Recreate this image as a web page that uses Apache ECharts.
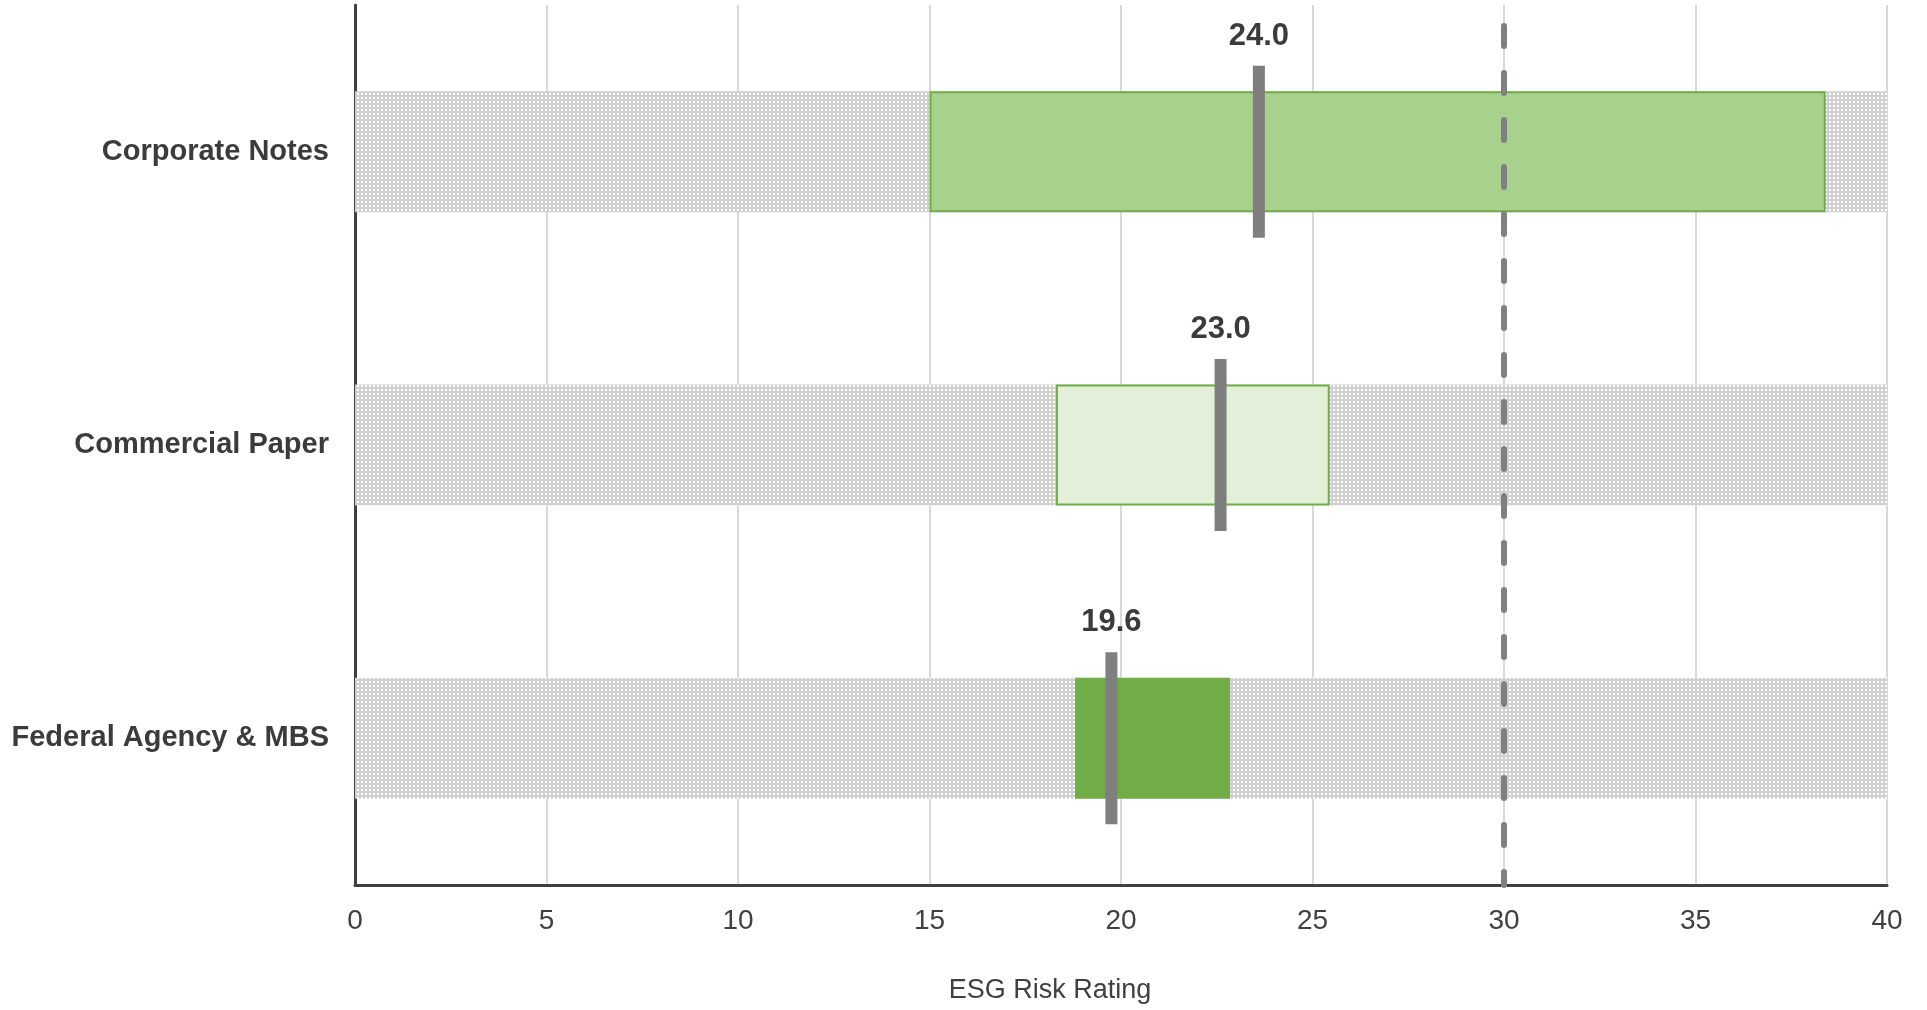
<!DOCTYPE html>
<html>
<head>
<meta charset="utf-8">
<title>ESG Risk Rating</title>
<script src="https://cdn.jsdelivr.net/npm/echarts@6/dist/echarts.min.js"></script>
<style>
  html, body { margin: 0; padding: 0; background: #fff; }
  #chart { width: 1927px; height: 1010px; }
</style>
</head>
<body>
<div id="chart"></div>
<script>
  // data, top row first
  const categories = ['Corporate Notes', 'Commercial Paper', 'Federal Agency & MBS'];
  const rangeLow = [15.0, 18.3, 18.8];
  const rangeHigh = [38.4, 25.45, 22.85];
  const portfolioScore = [23.6, 22.6, 19.75];
  const scoreLabels = ['24.0', '23.0', '19.6'];
  const bandEnd = [40, 40, 40];
  const thresholdValue = 30;
  const xMin = 0, xMax = 40, xStep = 5;
  const xAxisTitle = 'ESG Risk Rating';

  // styles
  const rangeColors = ['#A9D18E', '#E2F0D9', '#70AD47'];
  const rangeBorders = [2, 2, 0];
  const font = '"Liberation Sans", Arial, sans-serif';
  const textColor = '#3b3b3b';

  // little dotted tile for the grey bands
  function dotTile() {
    const c = document.createElement('canvas');
    c.width = 4;
    c.height = 4;
    const ctx = c.getContext('2d');
    ctx.fillStyle = '#d0d0d0';
    ctx.fillRect(0, 0, 4, 4);
    ctx.fillStyle = '#ffffff';
    ctx.fillRect(1, 1, 2, 2);
    return c;
  }

  const spanData = rangeLow.map((low, i) => ({
    value: rangeHigh[i] - low,
    itemStyle: {
      color: rangeColors[i],
      borderColor: '#70AD47',
      borderWidth: rangeBorders[i]
    }
  }));

  const chart = echarts.init(document.getElementById('chart'));
  chart.setOption({
    animation: false,
    backgroundColor: '#ffffff',
    textStyle: {fontFamily: font},
    grid: {
      left: 355,
      right: 40,
      top: 5,
      bottom: 125,
      containLabel: false,
      outerBoundsMode: 'none'
    },
    xAxis: {
      type: 'value',
      min: xMin,
      max: xMax,
      interval: xStep,
      name: xAxisTitle,
      nameLocation: 'middle',
      nameGap: 92,
      nameTextStyle: {
        fontFamily: font,
        fontSize: 27,
        color: '#404040',
        padding: [0, 142, 0, 0]
      },
      axisLine: {show: true, lineStyle: {color: '#404040', width: 3}},
      axisTick: {show: false},
      axisLabel: {fontFamily: font, fontSize: 28, color: '#404040', margin: 22},
      splitLine: {show: true, lineStyle: {color: '#d9d9d9', width: 2}}
    },
    yAxis: {
      type: 'category',
      data: categories,
      inverse: true,
      axisLine: {show: true, lineStyle: {color: '#404040', width: 3}},
      axisTick: {show: false},
      splitLine: {show: false},
      axisLabel: {
        fontFamily: font,
        fontSize: 29,
        fontWeight: 'bold',
        color: textColor,
        margin: 26,
        padding: [5, 0, 0, 0]
      }
    },
    series: [
      {
        name: 'band',
        type: 'bar',
        data: bandEnd,
        barWidth: 121,
        barGap: '-100%',
        silent: true,
        itemStyle: {color: {image: dotTile(), repeat: 'repeat'}}
      },
      {
        name: 'base',
        type: 'bar',
        stack: 'range',
        data: rangeLow,
        barWidth: 121,
        barGap: '-100%',
        silent: true,
        itemStyle: {color: 'transparent'}
      },
      {
        name: 'range',
        type: 'bar',
        stack: 'range',
        data: spanData,
        barWidth: 121,
        barGap: '-100%',
        silent: true
      },
      {
        name: 'score',
        type: 'scatter',
        data: portfolioScore.map((v, i) => [v, i]),
        symbol: 'rect',
        symbolSize: [12, 172],
        z: 5,
        silent: true,
        itemStyle: {color: '#7f7f7f', opacity: 1},
        label: {
          show: true,
          position: 'top',
          distance: 14,
          formatter: p => scoreLabels[p.dataIndex],
          fontFamily: font,
          fontSize: 31,
          fontWeight: 'bold',
          color: textColor
        },
        markLine: {
          silent: true,
          symbol: ['none', 'none'],
          label: {show: false},
          emphasis: {disabled: true},
          lineStyle: {
            color: '#808080',
            width: 6,
            type: [20, 27],
            dashOffset: 26,
            cap: 'round'
          },
          data: [{xAxis: thresholdValue}]
        }
      }
    ]
  });
</script>
</body>
</html>
